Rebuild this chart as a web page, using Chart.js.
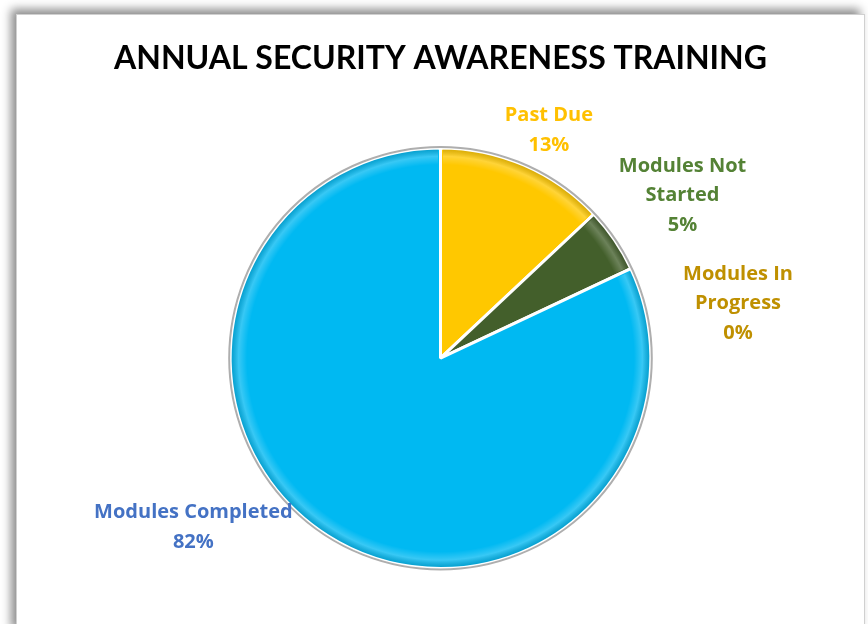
<!DOCTYPE html>
<html>
<head>
<meta charset="utf-8">
<script src="https://cdn.jsdelivr.net/npm/chart.js@4.4.1/dist/chart.umd.min.js"></script>
<style>
  html, body { margin: 0; padding: 0; background: #fff; overflow: hidden; }
  body { width: 868px; height: 624px; position: relative; }
  #frame {
    position: absolute; left: 16px; top: 14px; width: 849px; height: 620px;
    background: #fff; border: 1px solid #d0d0d0; box-sizing: border-box;
    box-shadow: -5px -5px 9px rgba(0,0,0,0.45);
  }
  #wrap { position: absolute; left: 0; top: 0; width: 847px; height: 610px; }
</style>
</head>
<body>
<div id="frame"><div id="wrap"><canvas id="mychart"></canvas></div></div>
<script>
var categories = ["Past Due", "Modules Not Started", "Modules In Progress", "Modules Completed"];
var percents = [13, 5, 0, 82];
var labelLines = [["Past Due"], ["Modules Not", "Started"], ["Modules In", "Progress"], ["Modules Completed"]];
var sliceColors = ["#FFC800", "#435F2B", "#C9A227", "#00B9F2"];
var labelColors = ["#FFC000", "#548235", "#BF9000", "#4472C4"];

// soft bevel on each slice: highlight just inside the rim, darker at the edge
var bevel = {
  id: "bevel",
  afterDatasetsDraw: function(chart) {
    var ctx = chart.ctx;
    chart.getDatasetMeta(0).data.forEach(function(arc) {
      if (arc.endAngle - arc.startAngle <= 0) return;
      var r = arc.outerRadius;
      ctx.save();
      ctx.beginPath();
      ctx.moveTo(arc.x, arc.y);
      ctx.arc(arc.x, arc.y, r - 1.5, arc.startAngle + 0.012, arc.endAngle - 0.012);
      ctx.closePath();
      ctx.clip();
      var g = ctx.createRadialGradient(arc.x, arc.y, 0, arc.x, arc.y, r);
      g.addColorStop(0, "rgba(255,255,255,0)");
      g.addColorStop(0.92, "rgba(255,255,255,0)");
      g.addColorStop(0.96, "rgba(255,255,255,0.22)");
      g.addColorStop(1, "rgba(0,0,0,0.16)");
      ctx.fillStyle = g;
      ctx.fillRect(arc.x - r, arc.y - r, 2 * r, 2 * r);
      ctx.restore();
    });
  }
};

// slice labels placed outside the pie, nudged like best-fit labels
var sliceLabels = {
  id: "sliceLabels",
  afterDatasetsDraw: function(chart, args, opts) {
    var ctx = chart.ctx;
    var meta = chart.getDatasetMeta(0);
    ctx.save();
    ctx.font = "bold 20px 'Open Sans'";
    ctx.textAlign = "center";
    ctx.textBaseline = "middle";
    meta.data.forEach(function(arc, i) {
      var p = arc.getProps(["x", "y", "startAngle", "endAngle", "outerRadius"], true);
      var mid = (p.startAngle + p.endAngle) / 2;
      var d = p.outerRadius + 40;
      var nudge = opts.nudges[i];
      var cx = p.x + Math.cos(mid) * d + nudge[0];
      var cy = p.y + Math.sin(mid) * d + nudge[1];
      var lines = labelLines[i].concat([percents[i] + "%"]);
      var lh = 29.5;
      var y0 = cy - (lines.length - 1) * lh / 2;
      ctx.fillStyle = labelColors[i];
      lines.forEach(function(t, k) { ctx.fillText(t, cx, y0 + k * lh); });
    });
    ctx.restore();
  }
};

// thin grey rim round the pie
var pieRim = {
  id: "pieRim",
  afterDatasetsDraw: function(chart) {
    var arc = chart.getDatasetMeta(0).data[0];
    var ctx = chart.ctx;
    ctx.save();
    ctx.beginPath();
    ctx.arc(arc.x, arc.y, arc.outerRadius + 1, 0, Math.PI * 2);
    ctx.strokeStyle = "rgba(120,120,120,0.6)";
    ctx.lineWidth = 2;
    ctx.stroke();
    ctx.restore();
  }
};

var mychart = document.getElementById("mychart").getContext("2d");
var chart = new Chart(mychart, {
  type: "pie",
  data: {
    labels: categories,
    datasets: [{
      data: percents,
      backgroundColor: sliceColors,
      borderColor: "#ffffff",
      borderWidth: 3
    }]
  },
  options: {
    responsive: true,
    maintainAspectRatio: false,
    animation: false,
    layout: { padding: { top: 0, bottom: 55, left: 0, right: 0 } },
    plugins: {
      legend: { display: false },
      tooltip: { enabled: false },
      title: {
        display: true,
        text: "ANNUAL SECURITY AWARENESS TRAINING",
        color: "#000",
        font: { family: "Lato", size: 32, weight: "bold" },
        padding: { top: 24, bottom: 69 }
      },
      sliceLabels: { nudges: [[9, 2], [35, -22], [71, 52], [-113, -42]] }
    }
  },
  plugins: [bevel, pieRim, sliceLabels]
});
</script>
</body>
</html>
